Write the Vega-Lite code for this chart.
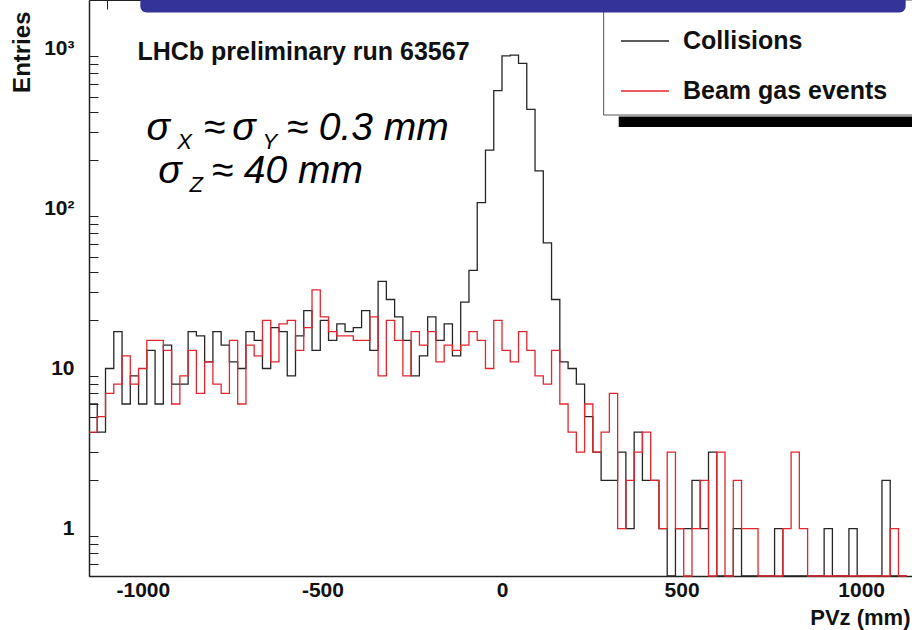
{
  "$schema": "https://vega.github.io/schema/vega-lite/v6.json",
  "width": 826,
  "height": 576,
  "autosize": "none",
  "padding": {"left": 89, "top": 0, "right": 0, "bottom": 54},
  "background": "white",
  "config": {
    "view": {"stroke": "#222", "strokeWidth": 1},
    "font": "Liberation Sans",
    "axis": {
      "labelOverlap": false,
      "labelFlush": false,
      "ticks": false,
      "grid": true,
      "gridColor": "#222222",
      "gridWidth": 1,
      "gridOpacity": 1,
      "domainColor": "#222222",
      "domainWidth": 1.5,
      "labelFont": "Liberation Sans",
      "labelFontWeight": "bold",
      "labelFontSize": 21,
      "labelColor": "#111111",
      "titleFont": "Liberation Sans",
      "titleFontWeight": "bold",
      "titleColor": "#111111"
    },
    "axisX": {
      "labelPadding": 3,
      "labelBaseline": "top",
      "titleFontSize": 22,
      "titleAnchor": "end",
      "titleAlign": "right",
      "titleBaseline": "middle",
      "titleX": 821,
      "titleY": 41
    },
    "axisY": {
      "labelPadding": 15,
      "titleFontSize": 24,
      "titleAngle": 270,
      "titleAnchor": "end",
      "titleAlign": "right",
      "titleBaseline": "middle",
      "titleX": -67,
      "titleY": 11
    }
  },
  "resolve": {"axis": {"x": "independent", "y": "independent"}},
  "datasets": {
    "hist": [
      {"pvz": -1150, "Collisions": 6, "Beam gas events": 4},
      {"pvz": -1127, "Collisions": 4, "Beam gas events": 5},
      {"pvz": -1104, "Collisions": 10, "Beam gas events": 7},
      {"pvz": -1081, "Collisions": 17, "Beam gas events": 8},
      {"pvz": -1058, "Collisions": 6, "Beam gas events": 12},
      {"pvz": -1035, "Collisions": 9, "Beam gas events": 8},
      {"pvz": -1012, "Collisions": 6, "Beam gas events": 10},
      {"pvz": -989, "Collisions": 13, "Beam gas events": 15},
      {"pvz": -966, "Collisions": 6, "Beam gas events": 15},
      {"pvz": -943, "Collisions": 14, "Beam gas events": 13},
      {"pvz": -920, "Collisions": 8, "Beam gas events": 6},
      {"pvz": -897, "Collisions": 8, "Beam gas events": 9},
      {"pvz": -874, "Collisions": 17, "Beam gas events": 13},
      {"pvz": -851, "Collisions": 16, "Beam gas events": 7},
      {"pvz": -828, "Collisions": 11, "Beam gas events": 11},
      {"pvz": -805, "Collisions": 17, "Beam gas events": 8},
      {"pvz": -782, "Collisions": 14, "Beam gas events": 7},
      {"pvz": -759, "Collisions": 11, "Beam gas events": 15},
      {"pvz": -736, "Collisions": 10, "Beam gas events": 6},
      {"pvz": -713, "Collisions": 17, "Beam gas events": 14},
      {"pvz": -690, "Collisions": 15, "Beam gas events": 12},
      {"pvz": -667, "Collisions": 10, "Beam gas events": 20},
      {"pvz": -644, "Collisions": 18, "Beam gas events": 11},
      {"pvz": -621, "Collisions": 17, "Beam gas events": 19},
      {"pvz": -598, "Collisions": 9, "Beam gas events": 20},
      {"pvz": -575, "Collisions": 16, "Beam gas events": 13},
      {"pvz": -552, "Collisions": 23, "Beam gas events": 18},
      {"pvz": -529, "Collisions": 13, "Beam gas events": 31},
      {"pvz": -506, "Collisions": 20, "Beam gas events": 21},
      {"pvz": -483, "Collisions": 15, "Beam gas events": 17},
      {"pvz": -460, "Collisions": 19, "Beam gas events": 16},
      {"pvz": -437, "Collisions": 17, "Beam gas events": 16},
      {"pvz": -414, "Collisions": 18, "Beam gas events": 15},
      {"pvz": -391, "Collisions": 23, "Beam gas events": 15},
      {"pvz": -368, "Collisions": 13, "Beam gas events": 21},
      {"pvz": -345, "Collisions": 35, "Beam gas events": 9},
      {"pvz": -322, "Collisions": 27, "Beam gas events": 20},
      {"pvz": -299, "Collisions": 21, "Beam gas events": 15},
      {"pvz": -276, "Collisions": 15, "Beam gas events": 9},
      {"pvz": -253, "Collisions": 9, "Beam gas events": 17},
      {"pvz": -230, "Collisions": 12, "Beam gas events": 14},
      {"pvz": -207, "Collisions": 21, "Beam gas events": 17},
      {"pvz": -184, "Collisions": 15, "Beam gas events": 11},
      {"pvz": -161, "Collisions": 19, "Beam gas events": 14},
      {"pvz": -138, "Collisions": 12, "Beam gas events": 13},
      {"pvz": -115, "Collisions": 26, "Beam gas events": 14},
      {"pvz": -92, "Collisions": 41, "Beam gas events": 17},
      {"pvz": -69, "Collisions": 109, "Beam gas events": 15},
      {"pvz": -46, "Collisions": 232, "Beam gas events": 10},
      {"pvz": -23, "Collisions": 545, "Beam gas events": 20},
      {"pvz": 0, "Collisions": 900, "Beam gas events": 13},
      {"pvz": 23, "Collisions": 910, "Beam gas events": 11},
      {"pvz": 46, "Collisions": 808, "Beam gas events": 17},
      {"pvz": 69, "Collisions": 417, "Beam gas events": 13},
      {"pvz": 92, "Collisions": 172, "Beam gas events": 9},
      {"pvz": 115, "Collisions": 61, "Beam gas events": 8},
      {"pvz": 138, "Collisions": 27, "Beam gas events": 13},
      {"pvz": 161, "Collisions": 11, "Beam gas events": 6},
      {"pvz": 184, "Collisions": 10, "Beam gas events": 4},
      {"pvz": 207, "Collisions": 8, "Beam gas events": 3},
      {"pvz": 230, "Collisions": 5, "Beam gas events": 6},
      {"pvz": 253, "Collisions": 3, "Beam gas events": 3},
      {"pvz": 276, "Collisions": 2, "Beam gas events": 4},
      {"pvz": 299, "Collisions": 2, "Beam gas events": 7},
      {"pvz": 322, "Collisions": 3, "Beam gas events": 1},
      {"pvz": 345, "Collisions": 1, "Beam gas events": 2},
      {"pvz": 368, "Collisions": 4, "Beam gas events": 3},
      {"pvz": 391, "Collisions": 2, "Beam gas events": 4},
      {"pvz": 414, "Collisions": 2, "Beam gas events": 2},
      {"pvz": 437, "Collisions": 1, "Beam gas events": 1},
      {"pvz": 460, "Collisions": 0, "Beam gas events": 3},
      {"pvz": 483, "Collisions": 1, "Beam gas events": 1},
      {"pvz": 506, "Collisions": 1, "Beam gas events": 0},
      {"pvz": 529, "Collisions": 2, "Beam gas events": 1},
      {"pvz": 552, "Collisions": 1, "Beam gas events": 2},
      {"pvz": 575, "Collisions": 3, "Beam gas events": 0},
      {"pvz": 598, "Collisions": 0, "Beam gas events": 3},
      {"pvz": 621, "Collisions": 0, "Beam gas events": 0},
      {"pvz": 644, "Collisions": 1, "Beam gas events": 2},
      {"pvz": 667, "Collisions": 0, "Beam gas events": 1},
      {"pvz": 690, "Collisions": 0, "Beam gas events": 1},
      {"pvz": 713, "Collisions": 0, "Beam gas events": 0},
      {"pvz": 736, "Collisions": 0, "Beam gas events": 0},
      {"pvz": 759, "Collisions": 1, "Beam gas events": 0},
      {"pvz": 782, "Collisions": 0, "Beam gas events": 1},
      {"pvz": 805, "Collisions": 0, "Beam gas events": 3},
      {"pvz": 828, "Collisions": 0, "Beam gas events": 1},
      {"pvz": 851, "Collisions": 0, "Beam gas events": 0},
      {"pvz": 874, "Collisions": 0, "Beam gas events": 0},
      {"pvz": 897, "Collisions": 1, "Beam gas events": 0},
      {"pvz": 920, "Collisions": 0, "Beam gas events": 0},
      {"pvz": 943, "Collisions": 0, "Beam gas events": 0},
      {"pvz": 966, "Collisions": 1, "Beam gas events": 0},
      {"pvz": 989, "Collisions": 0, "Beam gas events": 0},
      {"pvz": 1012, "Collisions": 0, "Beam gas events": 0},
      {"pvz": 1035, "Collisions": 0, "Beam gas events": 0},
      {"pvz": 1058, "Collisions": 2, "Beam gas events": 0},
      {"pvz": 1081, "Collisions": 0, "Beam gas events": 1},
      {"pvz": 1104, "Collisions": 0, "Beam gas events": 0},
      {"pvz": 1127, "Collisions": 0, "Beam gas events": 0}
    ]
  },
  "layer": [
    {
      "data": {"values": [{}]},
      "mark": {"type": "rect", "fill": "white", "stroke": "#555555", "strokeWidth": 1},
      "encoding": {
        "x": {
          "datum": 283, "type": "quantitative",
          "scale": {"domain": [-1150, 1150], "nice": false, "zero": false},
          "axis": {
            "orient": "bottom",
            "values": [-1100, -900, -800, -700, -600, -400, -300, -200, -100, 100, 200, 300, 400, 600, 700, 800, 900, 1100],
            "labels": false,
            "domain": false,
            "gridDash": [9, 3000],
            "title": null
          }
        },
        "x2": {"datum": 1150},
        "y": {
          "datum": 2010, "type": "quantitative",
          "scale": {"type": "log", "domain": [0.505, 2010], "nice": false, "clamp": true},
          "axis": {
            "orient": "left",
            "values": [0.6, 0.7, 0.8, 0.9, 2, 3, 4, 5, 6, 7, 8, 9, 20, 30, 40, 50, 60, 70, 80, 90, 200, 300, 400, 500, 600, 700, 800, 900],
            "labels": false,
            "domain": false,
            "gridDash": [9, 3000],
            "title": null
          }
        },
        "y2": {"datum": 384}
      }
    },
    {
      "data": {"values": [{}]},
      "mark": {"type": "rect", "color": "#000000"},
      "encoding": {
        "x": {"datum": 325, "type": "quantitative", "axis": null},
        "x2": {"datum": 1150},
        "y": {"datum": 376, "type": "quantitative", "axis": null},
        "y2": {"datum": 323}
      }
    },
    {
      "data": {"name": "hist"},
      "transform": [
        {"fold": ["Collisions", "Beam gas events"], "as": ["series", "entries"]}
      ],
      "mark": {"type": "line", "interpolate": "step-after", "strokeWidth": 1.3, "invalid": "show"},
      "encoding": {
        "x": {
          "field": "pvz", "type": "quantitative",
          "scale": {"domain": [-1150, 1150], "nice": false, "zero": false},
          "axis": {
            "orient": "bottom",
            "values": [-1000, -500, 0, 500, 1000],
            "labelExpr": "'' + datum.value",
            "gridDash": [17, 3000],
            "title": "PVz (mm)"
          }
        },
        "y": {
          "field": "entries", "type": "quantitative",
          "scale": {"type": "log", "domain": [0.505, 2010], "nice": false, "clamp": true},
          "axis": {
            "orient": "left",
            "values": [1, 10, 100, 1000],
            "labelExpr": "datum.value == 1000 ? '10³' : datum.value == 100 ? '10²' : datum.value == 10 ? '10' : '1'",
            "gridDash": [22, 3000],
            "title": "Entries"
          }
        },
        "color": {
          "field": "series", "type": "nominal",
          "scale": {"domain": ["Collisions", "Beam gas events"], "range": ["#262626", "#e3262e"]},
          "legend": {
            "orient": "none",
            "legendX": 514,
            "legendY": 11,
            "title": null,
            "symbolType": "stroke",
            "symbolSize": 2304,
            "symbolStrokeWidth": 1.5,
            "symbolOffset": 12,
            "labelFont": "Liberation Sans",
            "labelFontSize": 25,
            "labelFontWeight": "bold",
            "labelColor": "#111111",
            "labelOffset": 13,
            "labelLimit": 500,
            "padding": 5,
            "rowPadding": 12
          }
        }
      }
    },
    {
      "data": {"values": [{}]},
      "mark": {"type": "text", "text": "LHCb preliminary run 63567", "align": "left", "baseline": "middle", "font": "Liberation Sans", "fontWeight": "bold", "fontSize": 25, "color": "#111111"},
      "encoding": {"x": {"datum": -1015, "type": "quantitative", "axis": null}, "y": {"datum": 951, "type": "quantitative", "axis": null}}
    },
    {
      "data": {"values": [{}]},
      "mark": {"type": "text", "text": "σ", "align": "left", "baseline": "alphabetic", "font": "Liberation Sans", "fontStyle": "italic", "fontSize": 39, "color": "#000000"},
      "encoding": {"x": {"datum": -990, "type": "quantitative", "axis": null}, "y": {"datum": 268, "type": "quantitative", "axis": null}}
    },
    {
      "data": {"values": [{}]},
      "mark": {"type": "text", "text": "X", "align": "left", "baseline": "alphabetic", "font": "Liberation Sans", "fontStyle": "italic", "fontSize": 22, "color": "#000000"},
      "encoding": {"x": {"datum": -904, "type": "quantitative", "axis": null}, "y": {"datum": 235, "type": "quantitative", "axis": null}}
    },
    {
      "data": {"values": [{}]},
      "mark": {"type": "text", "text": "≈", "align": "left", "baseline": "alphabetic", "font": "Liberation Sans", "fontStyle": "italic", "fontSize": 39, "color": "#000000"},
      "encoding": {"x": {"datum": -831, "type": "quantitative", "axis": null}, "y": {"datum": 268, "type": "quantitative", "axis": null}}
    },
    {
      "data": {"values": [{}]},
      "mark": {"type": "text", "text": "σ", "align": "left", "baseline": "alphabetic", "font": "Liberation Sans", "fontStyle": "italic", "fontSize": 39, "color": "#000000"},
      "encoding": {"x": {"datum": -751, "type": "quantitative", "axis": null}, "y": {"datum": 268, "type": "quantitative", "axis": null}}
    },
    {
      "data": {"values": [{}]},
      "mark": {"type": "text", "text": "Y", "align": "left", "baseline": "alphabetic", "font": "Liberation Sans", "fontStyle": "italic", "fontSize": 22, "color": "#000000"},
      "encoding": {"x": {"datum": -667, "type": "quantitative", "axis": null}, "y": {"datum": 235, "type": "quantitative", "axis": null}}
    },
    {
      "data": {"values": [{}]},
      "mark": {"type": "text", "text": "≈ 0.3 mm", "align": "left", "baseline": "alphabetic", "font": "Liberation Sans", "fontStyle": "italic", "fontSize": 39, "color": "#000000"},
      "encoding": {"x": {"datum": -600, "type": "quantitative", "axis": null}, "y": {"datum": 268, "type": "quantitative", "axis": null}}
    },
    {
      "data": {"values": [{}]},
      "mark": {"type": "text", "text": "σ", "align": "left", "baseline": "alphabetic", "font": "Liberation Sans", "fontStyle": "italic", "fontSize": 39, "color": "#000000"},
      "encoding": {"x": {"datum": -957, "type": "quantitative", "axis": null}, "y": {"datum": 144, "type": "quantitative", "axis": null}}
    },
    {
      "data": {"values": [{}]},
      "mark": {"type": "text", "text": "Z", "align": "left", "baseline": "alphabetic", "font": "Liberation Sans", "fontStyle": "italic", "fontSize": 22, "color": "#000000"},
      "encoding": {"x": {"datum": -870, "type": "quantitative", "axis": null}, "y": {"datum": 127, "type": "quantitative", "axis": null}}
    },
    {
      "data": {"values": [{}]},
      "mark": {"type": "text", "text": "≈ 40 mm", "align": "left", "baseline": "alphabetic", "font": "Liberation Sans", "fontStyle": "italic", "fontSize": 39, "color": "#000000"},
      "encoding": {"x": {"datum": -809, "type": "quantitative", "axis": null}, "y": {"datum": 144, "type": "quantitative", "axis": null}}
    },
    {
      "data": {"values": [{}]},
      "mark": {"type": "rect", "color": "#333399", "cornerRadiusBottomLeft": 12, "cornerRadiusBottomRight": 12},
      "encoding": {
        "x": {"datum": -1007, "type": "quantitative", "axis": null},
        "x2": {"datum": 1124},
        "y": {"datum": 2010, "type": "quantitative", "axis": null},
        "y2": {"datum": 1679}
      }
    }
  ]
}
